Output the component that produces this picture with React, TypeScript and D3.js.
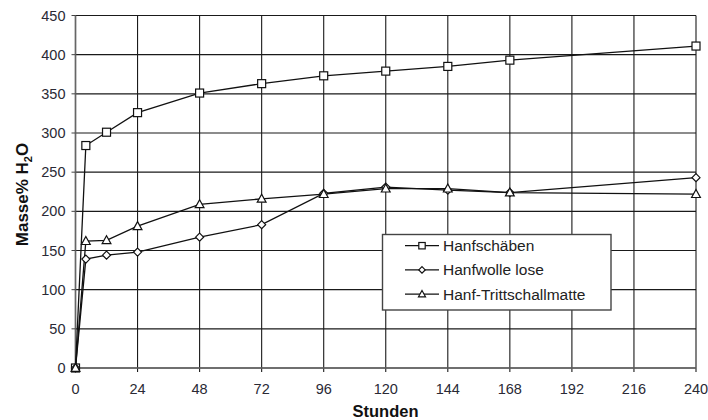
import React from "react";
import * as d3 from "d3";

const hours = [0, 4, 12, 24, 48, 72, 96, 120, 144, 168, 240];
const hanfschaeben = [0, 284, 301, 326, 351, 363, 373, 379, 385, 393, 411];
const hanfwolle = [0, 139, 144, 148, 167, 183, 223, 231, 227, 224, 243];
const trittschall = [0, 162, 163, 181, 209, 216, 222, 229, 229, 224, 222];
const xTicks = [0, 24, 48, 72, 96, 120, 144, 168, 192, 216, 240];
const yTicks = [0, 50, 100, 150, 200, 250, 300, 350, 400, 450];
const seriesNames = ["Hanfschäben", "Hanfwolle lose", "Hanf-Trittschallmatte"];
const seriesMarkers = ["square", "diamond", "triangle"];

const W = 708, H = 420;
const left = 75.5, right = 696, top = 15.5, bottom = 368;

function Marker({ type, x, y, s = 1 }: { type: string; x: number; y: number; s?: number }) {
  if (type === "square")
    return <rect x={x - 4 * s} y={y - 4 * s} width={8 * s} height={8 * s} fill="white" stroke="#111" strokeWidth={1.2} />;
  if (type === "diamond")
    return <path d={`M${x},${y - 4 * s}L${x + 4 * s},${y}L${x},${y + 4 * s}L${x - 4 * s},${y}Z`} fill="white" stroke="#111" strokeWidth={1.2} />;
  return <path d={`M${x},${y - 4.6 * s}L${x + 4.4 * s},${y + 3.4 * s}L${x - 4.4 * s},${y + 3.4 * s}Z`} fill="white" stroke="#111" strokeWidth={1.2} />;
}

export default function App() {
  const x = d3.scaleLinear().domain([0, 240]).range([left, right]);
  const y = d3.scaleLinear().domain([0, 450]).range([bottom, top]);
  const data = [hanfschaeben, hanfwolle, trittschall];
  const line = d3.line<number>().x((_, i) => x(hours[i])).y((d) => y(d));
  const font = "'Liberation Sans', Arial, sans-serif";
  const legX = 382.5, legY = 234.5, legW = 228.5, legH = 75.5;
  return (
    <svg width={W} height={H} style={{ position: "absolute", left: 0, top: 0, background: "white" }} fontFamily={font}>
      <rect width={W} height={H} fill="white" />
      {yTicks.map((t) => (
        <line key={"gy" + t} x1={left} x2={right} y1={y(t)} y2={y(t)} stroke="#1a1a1a" strokeWidth={1.1} />
      ))}
      {xTicks.map((t) => (
        <line key={"gx" + t} x1={x(t)} x2={x(t)} y1={top} y2={bottom + 4} stroke="#1a1a1a" strokeWidth={1.1} />
      ))}
      <line x1={left} x2={left} y1={top} y2={bottom} stroke="#666" strokeWidth={1.6} />
      <line x1={left} x2={right} y1={bottom} y2={bottom} stroke="#666" strokeWidth={1.6} />
      {yTicks.map((t) => (
        <line key={"ty" + t} x1={left - 4} x2={left} y1={y(t)} y2={y(t)} stroke="#444" strokeWidth={1} />
      ))}
      {yTicks.map((t) => (
        <text key={"ly" + t} x={left - 10} y={y(t)} dy="0.35em" textAnchor="end" fontSize={14.5} fill="#2a2a35">{t}</text>
      ))}
      {xTicks.map((t) => (
        <text key={"lx" + t} x={x(t)} y={bottom + 21} dy="0.35em" textAnchor="middle" fontSize={14.5} fill="#2a2a35">{t}</text>
      ))}
      <text x={385.5} y={411} dy="0.35em" textAnchor="middle" fontSize={16.5} fontWeight="bold" fill="#111">Stunden</text>
      <text transform={`translate(22.5,194.5) rotate(-90)`} textAnchor="middle" dy="0.35em" fontSize={17} fontWeight="bold" fill="#111">
        Masse% H<tspan fontSize={11} dy="4">2</tspan><tspan dy="-4">O</tspan>
      </text>
      {data.map((s, si) => (
        <path key={"l" + si} d={line(s) || ""} fill="none" stroke="#111" strokeWidth={1.3} />
      ))}
      {data.map((s, si) =>
        s.map((v, i) => <Marker key={`m${si}-${i}`} type={seriesMarkers[si]} x={x(hours[i])} y={y(v)} />)
      )}
      <rect x={legX} y={legY} width={legW} height={legH} fill="white" stroke="#444" strokeWidth={1.4} />
      {seriesNames.map((n, i) => {
        const ly = 245.7 + i * 24.2;
        return (
          <g key={"leg" + i}>
            <line x1={405} x2={439} y1={ly} y2={ly} stroke="#111" strokeWidth={1.3} />
            <Marker type={seriesMarkers[i]} x={422} y={ly} s={0.8} />
            <text x={443} y={ly} dy="0.35em" fontSize={15.5} fill="#222">{n}</text>
          </g>
        );
      })}
    </svg>
  );
}
